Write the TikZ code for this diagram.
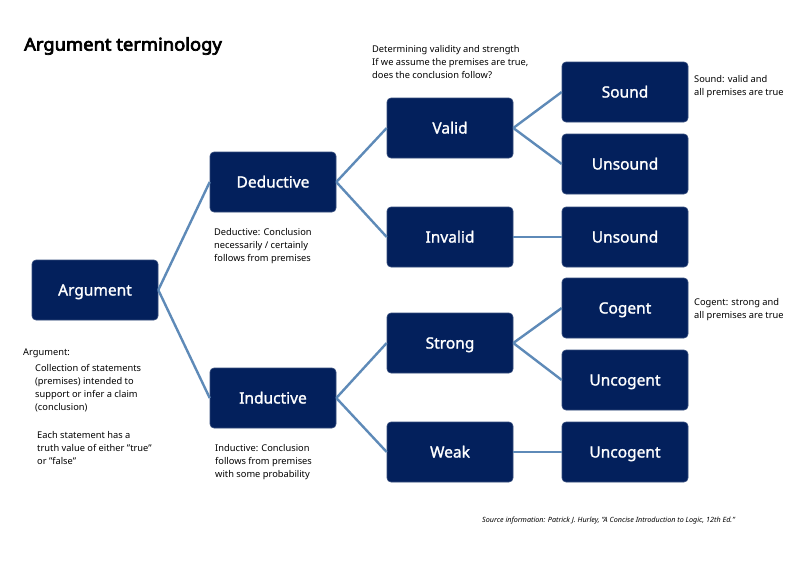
\documentclass[tikz,border=0pt]{standalone}
\usepackage{fontspec}
\setmainfont{Noto Sans}
\newfontfamily\boxfont{Noto Sans}[FakeBold=1.4]
\newfontfamily\titlefont{Noto Sans}[FakeBold=4,FakeStretch=1.05]
\definecolor{boxfill}{HTML}{03205C}
\definecolor{linec}{HTML}{5E8AB8}
\begin{document}
\begin{tikzpicture}[x=1pt,y=-1pt,
  termbox/.style={draw=boxfill!80!white, line width=0.6pt, fill=boxfill, rounded corners=4pt,
    minimum width=126pt, minimum height=60pt, inner sep=0pt, text=white,
    text height=11pt, text depth=0pt,
    font=\boxfont\fontsize{15.5}{18}\selectfont},
  note/.style={anchor=north west, inner sep=0pt, align=left,
    font=\fontsize{9.3}{12.9}\selectfont},
  conn/.style={draw=linec, line width=2.4pt}]
\useasboundingbox (0,0) rectangle (800,566);
\fill[white] (0,0) rectangle (800,566);
\node[anchor=west, inner sep=0pt, font=\titlefont\fontsize{17.5}{20}\selectfont] (title) at (24,46) {Argument terminology};

\node[termbox] (arg) at (95,290) {Argument};
\node[termbox] (ded) at (273,182) {Deductive};
\node[termbox] (ind) at (273,398) {Inductive};
\node[termbox] (val) at (450,128) {Valid};
\node[termbox] (inv) at (450,237) {Invalid};
\node[termbox] (str) at (450,343) {Strong};
\node[termbox] (weak) at (450,452) {Weak};
\node[termbox] (snd) at (625,92) {Sound};
\node[termbox] (uns1) at (625,164) {Unsound};
\node[termbox] (uns2) at (625,237) {Unsound};
\node[termbox] (cog) at (625,308) {Cogent};
\node[termbox] (unc1) at (625,380) {Uncogent};
\node[termbox] (unc2) at (625,452) {Uncogent};

\draw[conn] (arg.east) -- (ded.west);
\draw[conn] (arg.east) -- (ind.west);
\draw[conn] (ded.east) -- (val.west);
\draw[conn] (ded.east) -- (inv.west);
\draw[conn] (ind.east) -- (str.west);
\draw[conn] (ind.east) -- (weak.west);
\draw[conn] (val.east) -- (snd.west);
\draw[conn] (val.east) -- (uns1.west);
\draw[conn] (inv.east) -- (uns2.west);
\draw[conn] (str.east) -- (cog.west);
\draw[conn] (str.east) -- (unc1.west);
\draw[conn] (weak.east) -- (unc2.west);

\node[note] (n1) at (372,45) {Determining validity and strength\\If we assume the premises are true,\\does the conclusion follow?};
\node[note] (n2) at (694,75) {Sound: valid and\\all premises are true};
\node[note] (n3) at (694,298) {Cogent: strong and\\all premises are true};
\node[note] (n4) at (214,228) {Deductive: Conclusion\\necessarily / certainly\\follows from premises};
\node[note] (n5) at (215,444) {Inductive: Conclusion\\follows from premises\\with some probability};
\node[note] (n6) at (23,349) {Argument:};
\node[note] (n7) at (35,364) {Collection of statements\\(premises) intended to\\support or infer a claim\\(conclusion)};
\node[note] (n8) at (37,431) {Each statement has a\\truth value of either "true"\\or "false"};
\node[anchor=west, inner sep=0pt, font=\fontsize{7.2}{9}\selectfont\itshape] (src) at (482,521) {Source information: Patrick J. Hurley, "A Concise Introduction to Logic, 12th Ed."};
\end{tikzpicture}
\end{document}
